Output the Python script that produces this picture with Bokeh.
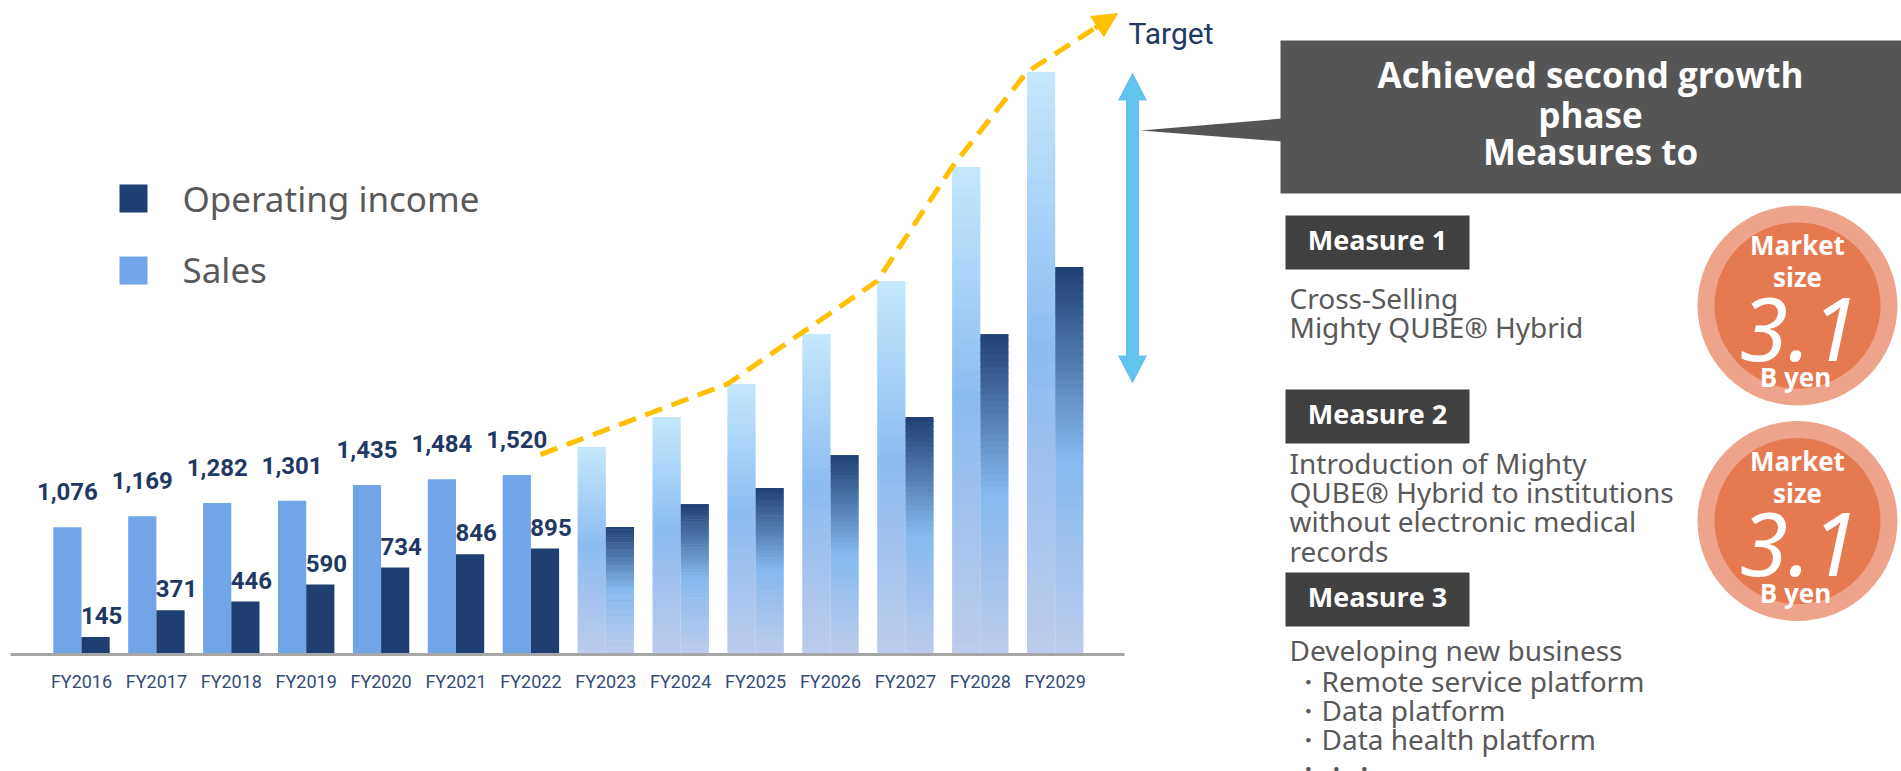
from bokeh.plotting import figure
from bokeh.models import Range1d, LinearAxis, FixedTicker, Arrow, NormalHead
from bokeh.core.properties import value
from bokeh.embed import file_html
from bokeh.resources import INLINE

# ---------------- data ----------------
years = ["FY2016", "FY2017", "FY2018", "FY2019", "FY2020", "FY2021", "FY2022",
         "FY2023", "FY2024", "FY2025", "FY2026", "FY2027", "FY2028", "FY2029"]
sales = [1076, 1169, 1282, 1301, 1435, 1484, 1520,
         1757, 2012, 2292, 2716, 3166, 4134, 4941]
operating_income = [145, 371, 446, 590, 734, 846, 895,
                    1078, 1273, 1409, 1689, 2012, 2716, 3285]
n_actual = 7  # FY2016-FY2022 are results, the rest are plan

legend_labels = ["Operating income", "Sales"]
callout_lines = ["Achieved second growth", "phase", "Measures to"]
measure_titles = ["Measure 1", "Measure 2", "Measure 3"]
measure1_lines = ["Cross-Selling", "Mighty QUBE\u00ae Hybrid"]
measure2_lines = ["Introduction of Mighty", "QUBE\u00ae Hybrid to institutions",
                  "without electronic medical", "records"]
measure3_lines = ["Developing new business"]
measure3_bullets = ["\u30fbRemote service platform", "\u30fbData platform",
                    "\u30fbData health platform", "\u30fb\u30fb\u30fb"]
market_size = ["3.1", "3.1"]

# ---------------- layout (page pixels) ----------------
M = 0
W, H = 1901, 771
G0 = 81.0       # page x of first group centre
STEP = 74.9     # px per group
BASE = 653.5    # page y of zero
K = 0.1178      # px per unit
BW = 28.2 / STEP
SHIFT = 0.39    # baseline correction (em) for the svg text placement

C_SALES = "#71A5E8"
C_OI = "#1F3F73"
C_LABEL = "#1F3864"
C_TEXT = "#595959"


def bl(y, size, c=SHIFT):
    return y - c * size


p = figure(width=W, height=H, output_backend="svg", toolbar_location=None,
           x_axis_location=None, y_axis_location=None,
           x_range=Range1d((M - G0) / STEP, (M + W - G0) / STEP),
           y_range=Range1d(-(M + H - BASE) / K, (BASE - M) / K),
           min_border=0, outline_line_color=None,
           background_fill_color="white", border_fill_color="white")
p.extra_x_ranges = {"px": Range1d(M, M + W)}
p.extra_y_ranges = {"px": Range1d(M + H, M)}
p.grid.visible = False

idx = list(range(len(years)))

# actual bars
p.vbar(x=[i - BW / 2 for i in idx[:n_actual]], width=BW, top=sales[:n_actual], bottom=0,
       fill_color=C_SALES, line_color=None)
p.vbar(x=[i + BW / 2 for i in idx[:n_actual]], width=BW, top=operating_income[:n_actual],
       bottom=0, fill_color=C_OI, line_color=None)


def hex2rgb(h):
    h = h.lstrip("#")
    return tuple(int(h[j:j + 2], 16) for j in (0, 2, 4))


def grad(stops, f):
    for (f0, c0), (f1, c1) in zip(stops[:-1], stops[1:]):
        if f0 <= f <= f1:
            t = (f - f0) / (f1 - f0) if f1 > f0 else 0
            a, b = hex2rgb(c0), hex2rgb(c1)
            return "#%02x%02x%02x" % tuple(int(round(a[k] + (b[k] - a[k]) * t)) for k in range(3))
    return stops[-1][1]


sales_stops = [(0.0, "#C4E8FD"), (0.48, "#8BBCF2"), (1.0, "#BECBEC")]
oi_stops = [(0.0, "#1F3F73"), (0.5, "#85BAF0"), (1.0, "#BECBEC")]
N = 48
gl, gr, gb, gt, gc = [], [], [], [], []
for i in idx[n_actual:]:
    for vals, stops, left in ((sales, sales_stops, i - BW), (operating_income, oi_stops, i)):
        v = vals[i]
        for k in range(N):
            b = v * k / N
            t = v * (k + 1) / N
            f = 1 - (k + 0.5) / N
            gl.append(left)
            gr.append(left + BW)
            gb.append(b)
            gt.append(t + (v / N) * 0.15 if k < N - 1 else t)
            gc.append(grad(stops, f))
p.quad(left=gl, right=gr, bottom=gb, top=gt, fill_color=gc, line_color=None)

# x axis at zero
ax = LinearAxis(ticker=FixedTicker(ticks=idx),
                major_label_overrides={i: years[i] for i in idx},
                fixed_location=0,
                bounds=((10 - G0) / STEP, (1124 - G0) / STEP),
                axis_line_color="#A6A6A6", axis_line_width=3,
                major_tick_line_color=None, minor_tick_line_color=None,
                major_label_text_font="Roboto", major_label_text_font_size="18px",
                major_label_text_color="#344A78", major_label_standoff=11)
p.add_layout(ax, "below")

# value labels
p.text(x=[i - BW / 2 for i in idx[:n_actual]],
       y=[v + (26 + SHIFT * 24) / K for v in sales[:n_actual]],
       text=[f"{v:,}" for v in sales[:n_actual]], text_align="center",
       text_baseline="alphabetic", text_font=value("Roboto"), text_font_style="bold",
       text_font_size="24px", text_color=C_LABEL)
p.text(x=[i + BW / 2 + 6 / STEP for i in idx[:n_actual]],
       y=[v + (12 + SHIFT * 24) / K for v in operating_income[:n_actual]],
       text=[f"{v:,}" for v in operating_income[:n_actual]], text_align="center",
       text_baseline="alphabetic", text_font=value("Roboto"), text_font_style="bold",
       text_font_size="24px", text_color=C_LABEL)

# target trend line through plan sales corners
last = len(years) - 1
cx, cy = last - BW, sales[last]
dx, dy = 90.5 / STEP, 58.4 / K
trend_x = [n_actual - 1 + 9.6 / STEP, 9 - BW, 11 - BW, 12 - BW, cx, cx + 0.9 * dx]
trend_y = [sales[n_actual - 1] + 173, sales[9], sales[11], sales[12], cy, cy + 0.9 * dy]
p.line(trend_x, trend_y, line_color="#FFC000", line_width=5, line_dash="18 10")
p.add_layout(Arrow(end=NormalHead(size=24, fill_color="#FFC000", line_color="#FFC000"),
                   x_start=cx + 0.75 * dx, y_start=cy + 0.75 * dy,
                   x_end=cx + dx, y_end=cy + dy,
                   line_color="#FFC000", line_width=5))

PX = dict(x_range_name="px", y_range_name="px")

# legend
p.quad(left=[119, 119], right=[147, 147], top=[184, 256], bottom=[212, 284],
       fill_color=[C_OI, C_SALES], line_color=None, **PX)
p.text(x=[182, 182], y=[bl(212, 35), bl(283, 35)], text=legend_labels,
       text_baseline="alphabetic", text_font=value("Noto Sans"), text_font_size="35px",
       text_color=C_TEXT, **PX)

# target label
p.text(x=[1128], y=[bl(44.5, 30)], text=["Target"], text_baseline="alphabetic",
       text_font=value("Roboto"), text_font_size="30px", text_color=C_LABEL, **PX)

# blue double arrow
ax_c = 1132
p.patch(x=[ax_c, ax_c + 14.5, ax_c + 6.5, ax_c + 6.5, ax_c + 14.5, ax_c,
           ax_c - 14.5, ax_c - 6.5, ax_c - 6.5, ax_c - 14.5],
        y=[72, 100, 100, 355, 355, 383, 355, 355, 100, 100],
        fill_color="#63C3EF", line_color=None, **PX)

# callout
p.patch(x=[1140, 1282, 1282], y=[130, 118, 141], fill_color="#555555", line_color=None, **PX)
p.quad(left=[1280], right=[1905], top=[40], bottom=[193], fill_color="#555555",
       line_color=None, **PX)
p.text(x=[1590] * 3, y=[bl(88, 35), bl(127.5, 35), bl(165, 35)], text=callout_lines,
       text_align="center", text_baseline="alphabetic", text_font=value("Open Sans"),
       text_font_style="bold", text_font_size="35px", text_color="white", **PX)

# measure boxes
box_tops = [215, 389, 572]
p.quad(left=[1285] * 3, right=[1469] * 3, top=box_tops, bottom=[t + 54 for t in box_tops],
       fill_color="#404040", line_color=None, **PX)
p.text(x=[1377] * 3, y=[bl(t + 35, 27) for t in box_tops], text=measure_titles,
       text_align="center", text_baseline="alphabetic", text_font=value("Open Sans"),
       text_font_style="bold", text_font_size="27px", text_color="white", **PX)

body_x, body_y, body_t = [], [], []
for lines, y0 in ((measure1_lines, 308), (measure2_lines, 473), (measure3_lines, 660)):
    for j, s in enumerate(lines):
        body_x.append(1289)
        body_y.append(bl(y0 + j * 29.4, 28))
        body_t.append(s)
for j, s in enumerate(measure3_bullets):
    body_x.append(1293)
    body_y.append(bl(691 + j * 29, 28))
    body_t.append(s)
p.text(x=body_x, y=body_y, text=body_t, text_baseline="alphabetic",
       text_font=value("Noto Sans"), text_font_size="28px", text_color=C_TEXT, **PX)

# market size circles
centres = [305, 520.5]
p.scatter(x=[1797] * 2, y=centres, marker="circle", size=200, fill_color="#EDA48B",
          line_color=None, **PX)
p.scatter(x=[1797] * 2, y=centres, marker="circle", size=166, fill_color="#E57A50",
          line_color=None, **PX)
for c, ms in zip(centres, market_size):
    p.text(x=[1797, 1797, 1795], y=[bl(c - 50, 26), bl(c - 18, 26), bl(c + 82, 26)],
           text=["Market", "size", "B yen"],
           text_align="center", text_baseline="alphabetic", text_font=value("Open Sans"),
           text_font_style="bold", text_font_size="26px", text_color="white", **PX)
    p.text(x=[1799], y=[bl(c + 52, 88, 0.32)], text=[ms], text_align="center",
           text_baseline="alphabetic", text_font=value("Noto Sans"), text_font_style="italic",
           text_font_size="88px", text_color="white", **PX)

open("out.html", "w").write(file_html(p, INLINE))
